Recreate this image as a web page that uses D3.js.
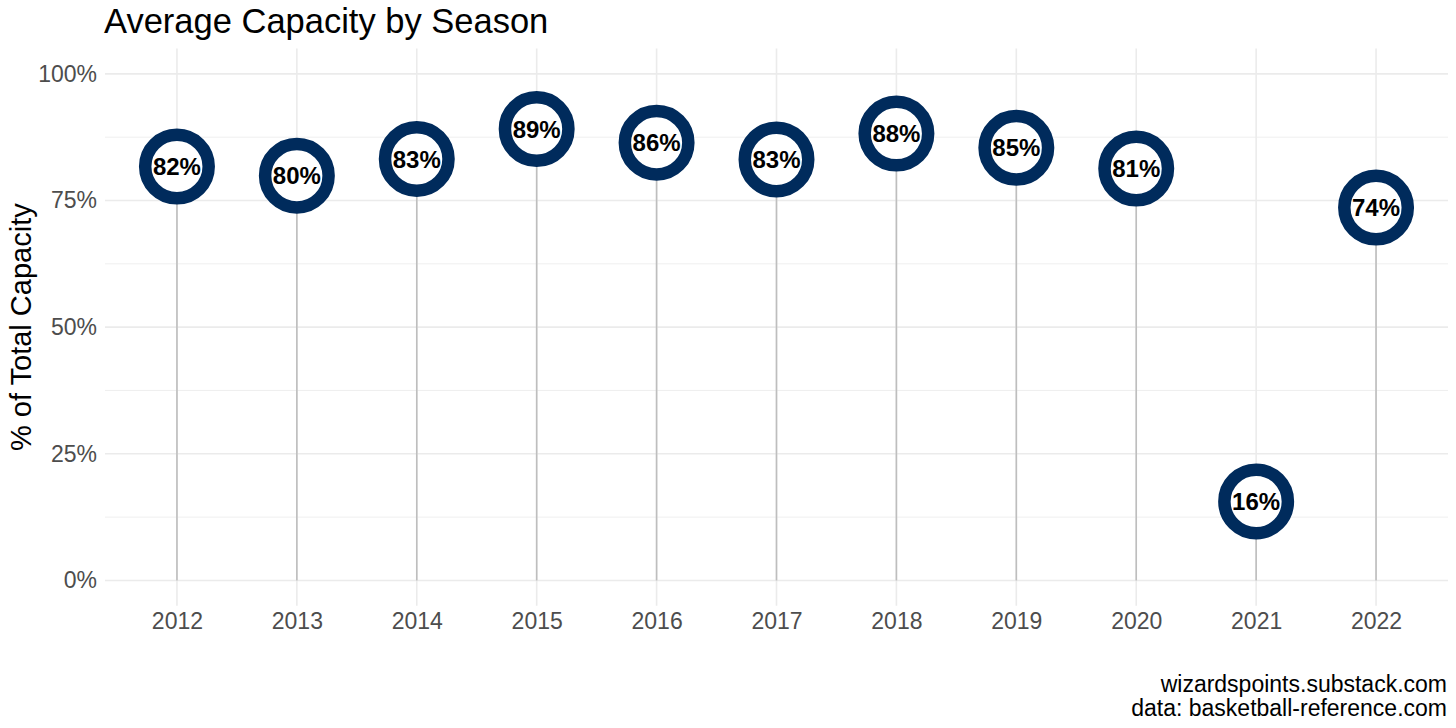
<!DOCTYPE html>
<html>
<head>
<meta charset="utf-8">
<script src="https://cdn.jsdelivr.net/npm/d3@7"></script>
<style>
  html, body { margin: 0; padding: 0; background: #fff; }
  svg { display: block; font-family: "Liberation Sans", Arial, sans-serif; }
</style>
</head>
<body>
<svg id="chart" width="1456" height="728"></svg>
<script>
// Data
const seasons = ["2012","2013","2014","2015","2016","2017","2018","2019","2020","2021","2022"];
const capacity = [81.7, 79.9, 83.2, 89.1, 86.4, 83.1, 88.2, 85.4, 81.3, 15.6, 73.6];
const yTicks = [0, 25, 50, 75, 100];
const yMinorTicks = [12.5, 37.5, 62.5, 87.5];
const titleText = "Average Capacity by Season";
const yTitleText = "% of Total Capacity";
const captionLines = ["wizardspoints.substack.com", "data: basketball-reference.com"];

const data = seasons.map((s, i) => ({ season: s, value: capacity[i] }));

const svg = d3.select("#chart");
const panel = { left: 105, right: 1448, top: 48.5, bottom: 605.8 };

const x = d3.scalePoint().domain(seasons).range([panel.left, panel.right]).padding(0.6);
const y = d3.scaleLinear().domain([-5, 105]).range([panel.bottom, panel.top]);

const g = svg.append("g");

// minor horizontal grid
g.selectAll(".minor").data(yMinorTicks).join("line")
  .attr("x1", panel.left).attr("x2", panel.right)
  .attr("y1", d => y(d)).attr("y2", d => y(d))
  .attr("stroke", "#ebebeb").attr("stroke-width", 0.8);

// major horizontal grid
g.selectAll(".major").data(yTicks).join("line")
  .attr("x1", panel.left).attr("x2", panel.right)
  .attr("y1", d => y(d)).attr("y2", d => y(d))
  .attr("stroke", "#ebebeb").attr("stroke-width", 1.6);

// vertical grid
g.selectAll(".vgrid").data(seasons).join("line")
  .attr("x1", d => x(d)).attr("x2", d => x(d))
  .attr("y1", panel.top).attr("y2", panel.bottom)
  .attr("stroke", "#ebebeb").attr("stroke-width", 1.6);

// sticks
g.selectAll(".stick").data(data).join("line")
  .attr("x1", d => x(d.season)).attr("x2", d => x(d.season))
  .attr("y1", y(0)).attr("y2", d => y(d.value))
  .attr("stroke", "#bebebe").attr("stroke-width", 1.6);

// circles
g.selectAll(".dot").data(data).join("circle")
  .attr("cx", d => x(d.season)).attr("cy", d => y(d.value))
  .attr("r", 31.75)
  .attr("fill", "#ffffff")
  .attr("stroke", "#002B5C")
  .attr("stroke-width", 12.5);

// value labels
g.selectAll(".lbl").data(data).join("text")
  .attr("x", d => x(d.season)).attr("y", d => y(d.value))
  .attr("dy", "0.36em")
  .attr("text-anchor", "middle")
  .attr("font-weight", "bold")
  .attr("font-size", 24)
  .attr("fill", "#000")
  .text(d => Math.round(d.value) + "%");

// y axis
const yAxis = d3.axisLeft(y).tickValues(yTicks).tickFormat(d => d + "%").tickSize(0).tickPadding(8);
const ya = svg.append("g").attr("transform", `translate(${panel.left},0)`).call(yAxis);
ya.select(".domain").remove();
ya.selectAll("text").attr("font-size", 23).attr("fill", "#4d4d4d").attr("font-family", "Liberation Sans, Arial, sans-serif");

// x axis
const xAxis = d3.axisBottom(x).tickSize(0).tickPadding(7);
const xa = svg.append("g").attr("transform", `translate(0,${panel.bottom})`).call(xAxis);
xa.select(".domain").remove();
xa.selectAll("text").attr("font-size", 23).attr("fill", "#4d4d4d").attr("font-family", "Liberation Sans, Arial, sans-serif");

// title
svg.append("text").attr("x", 104).attr("y", 33)
  .attr("font-size", 34.5).attr("fill", "#000").text(titleText);

// y title
svg.append("text")
  .attr("transform", `translate(31,${(panel.top + panel.bottom) / 2}) rotate(-90)`)
  .attr("text-anchor", "middle")
  .attr("font-size", 29).attr("fill", "#000").text(yTitleText);

// caption
svg.append("text").attr("text-anchor", "end").attr("font-size", 23).attr("fill", "#000")
  .selectAll("tspan").data(captionLines).join("tspan")
  .attr("x", 1447).attr("y", (d, i) => 692 + i * 24).text(d => d);
</script>
</body>
</html>
